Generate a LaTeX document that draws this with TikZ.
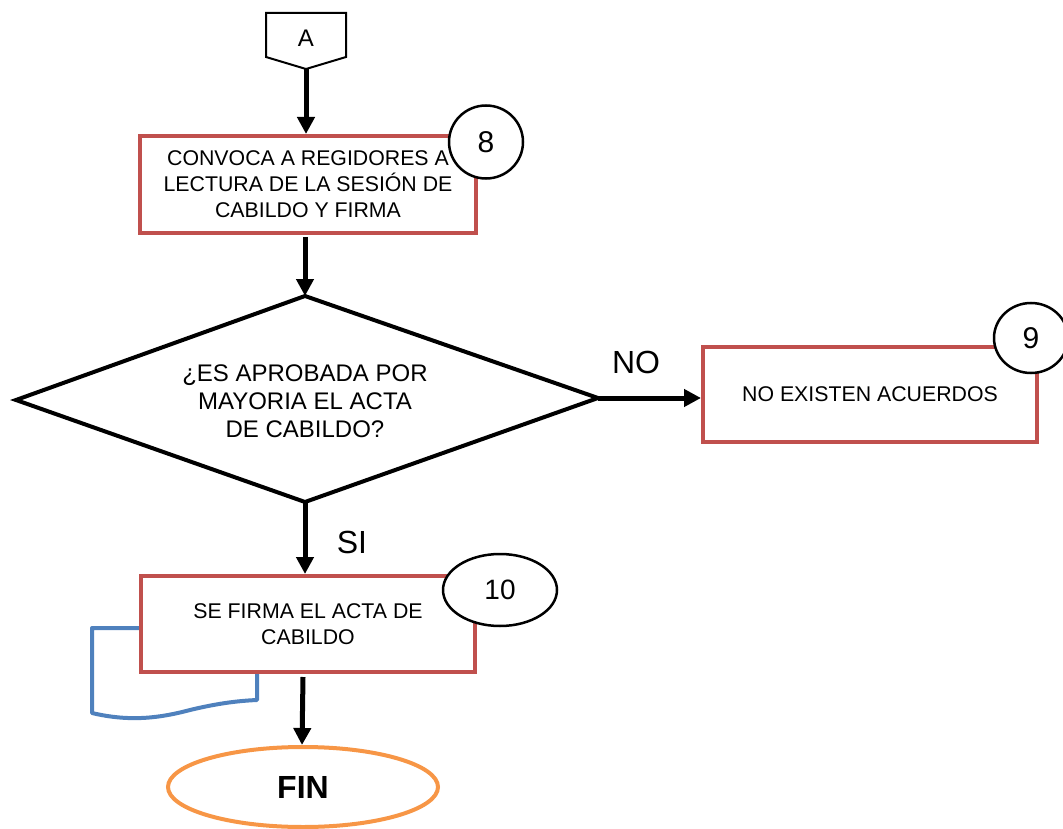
\documentclass[tikz,border=0pt]{standalone}
\usepackage{fontspec}
\setmainfont{Liberation Sans}
\usetikzlibrary{arrows.meta,shapes.geometric}
\definecolor{boxred}{HTML}{C0504D}
\definecolor{docblue}{HTML}{4F81BD}
\definecolor{endorange}{HTML}{F79646}
\tikzset{
  procbox/.style={draw=boxred, line width=4pt, fill=white, inner sep=0pt, align=center,
    font=\fontsize{21.3}{26}\selectfont},
  stepnum/.style={draw=black, line width=2.5pt, fill=white, ellipse, inner sep=0pt,
    font=\fontsize{30}{32}\selectfont},
  flow/.style={line width=5pt, -{Triangle[length=17pt,width=17pt]}},
  branchlbl/.style={font=\fontsize{32}{34}\selectfont},
}
\begin{document}
\begin{tikzpicture}[x=1pt,y=-1pt]
\useasboundingbox (0,0) rectangle (1063,829);

% off-page connector A
\draw[line width=2pt, fill=white] (266,13) -- (346,13) -- (346,57) -- (306,69) coordinate (Apt) -- (266,57) -- cycle;
\node[font=\fontsize{24}{26}\selectfont] (A) at (306,38) {A};

% step 8
\node[procbox, minimum width=336pt, minimum height=97pt] (b8) at (308,184.5)
  {CONVOCA A REGIDORES A\\LECTURA DE LA SESIÓN DE\\CABILDO Y FIRMA};
\node[stepnum, minimum width=74pt, minimum height=73pt] (c8) at (486,142) {8};

% decision
\coordinate (dL) at (16,400);
\coordinate (dT) at (305,296);
\coordinate (dR) at (598,398);
\coordinate (dB) at (305,502);
\draw[line width=4pt, line join=miter] (dL) -- (dT) -- (dR) -- (dB) -- cycle;
\node[align=center, font=\fontsize{24}{28}\selectfont] (q) at (305,401)
  {¿ES APROBADA POR\\MAYORIA EL ACTA\\DE CABILDO?};

% step 9
\node[procbox, minimum width=334pt, minimum height=95pt] (b9) at (870,394.5) {NO EXISTEN ACUERDOS};
\node[stepnum, minimum width=74pt, minimum height=70pt] (c9) at (1031,338) {9};

% document symbol behind step 10
\draw[docblue, line width=4pt, line join=round]
  (141,628) -- (92,628) coordinate (docTL) -- (92,713)
  .. controls (130,722) and (160,718) .. (190,710)
  .. controls (215,704) and (235,701) .. (257,700) -- (257,660);

% step 10
\node[procbox, minimum width=334pt, minimum height=96pt] (b10) at (308,624)
  {SE FIRMA EL ACTA DE\\CABILDO};
\node[stepnum, minimum width=114pt, minimum height=72pt, font=\fontsize{28}{30}\selectfont]
  (c10) at (500,590) {10};

% end
\node[draw=endorange, line width=4pt, ellipse, minimum width=270pt, minimum height=80pt,
  inner sep=0pt, font=\bfseries\fontsize{32}{34}\selectfont] (fin) at (303,787) {FIN};

% connectors
\draw[flow] (Apt) -- (Apt |- b8.north);
\draw[flow] ([yshift=-2pt]b8.south -| dT) -- (dT);
\draw[flow] (dR) -- (dR -| b9.west);
\draw[flow] (dB) -- (dB |- b10.north);
\draw[flow] ([xshift=-5pt,yshift=-3pt]b10.south) -- ([xshift=-1pt]fin.north);

% branch labels
\node[branchlbl] (no) at (636,362) {NO};
\node[branchlbl] (si) at (352,542) {SI};
\end{tikzpicture}
\end{document}
